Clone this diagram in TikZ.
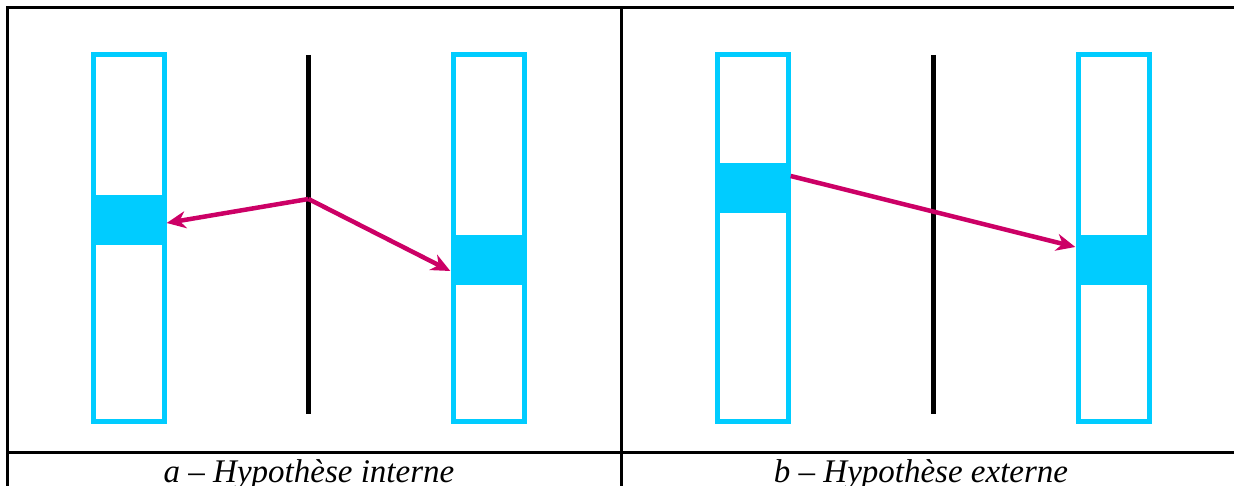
\documentclass[tikz,border=0pt]{standalone}
\usepackage{fontspec}
\setmainfont{Liberation Serif}
\usepackage{xcolor}
\usetikzlibrary{positioning,arrows.meta}
\definecolor{tubecyan}{HTML}{00CCFF}
\definecolor{seamred}{HTML}{CC0066}

\begin{document}
\begin{tikzpicture}[x=1pt,y=-1pt,
  tube/.style={draw=tubecyan,line width=5pt,minimum width=71pt,minimum height=366pt,inner sep=0pt},
  band/.style={fill=tubecyan,minimum width=76pt,minimum height=50pt,inner sep=0pt},
  wall/.style={line width=5pt},
  frame/.style={line width=3pt},
  ray/.style={seamred,line width=4.5pt,-{Stealth[length=19pt,width=17pt,inset=6pt]}},
  caption/.style={anchor=base,font=\itshape\fontsize{33}{36}\selectfont}]

  \useasboundingbox (0,0) rectangle (1234,486);

  % --- frame ---
  \draw[frame] (7,486) -- (7,8) -- (1234,8);
  \draw[frame] (621,8) -- (621,486);
  \draw[frame] (7,452) -- (1234,452);

  % --- (a) internal ---
  \node[tube] (tubeAL) at (128.5,238) {};
  \node[tube] (tubeAR) at (488.5,238) {};
  \node[band] (bandAL) at (128.5,220) {};
  \node[band] (bandAR) at (488.5,260) {};
  \draw[wall] (308.5,55) -- (308.5,414);
  \coordinate (hitA) at (308.5,199);
  \draw[ray] (hitA) -- ([yshift=-3pt]bandAL.east);
  \draw[ray] (hitA) -- ([yshift=-11pt]bandAR.west);
  \node[caption] (capA) at (309,482) {a -- Hypothèse interne};

  % --- (b) external ---
  \node[tube] (tubeBL) at (752.5,238) {};
  \node[tube] (tubeBR) at (1113.5,238) {};
  \node[band] (bandBL) at (752.5,188) {};
  \node[band] (bandBR) at (1113.5,260) {};
  \draw[wall] (933,55) -- (933,414);
  \draw[ray] ([yshift=12pt]bandBL.east) -- ([yshift=13pt]bandBR.west);
  \node[caption] (capB) at (921,482) {b -- Hypothèse externe};
\end{tikzpicture}
\end{document}
